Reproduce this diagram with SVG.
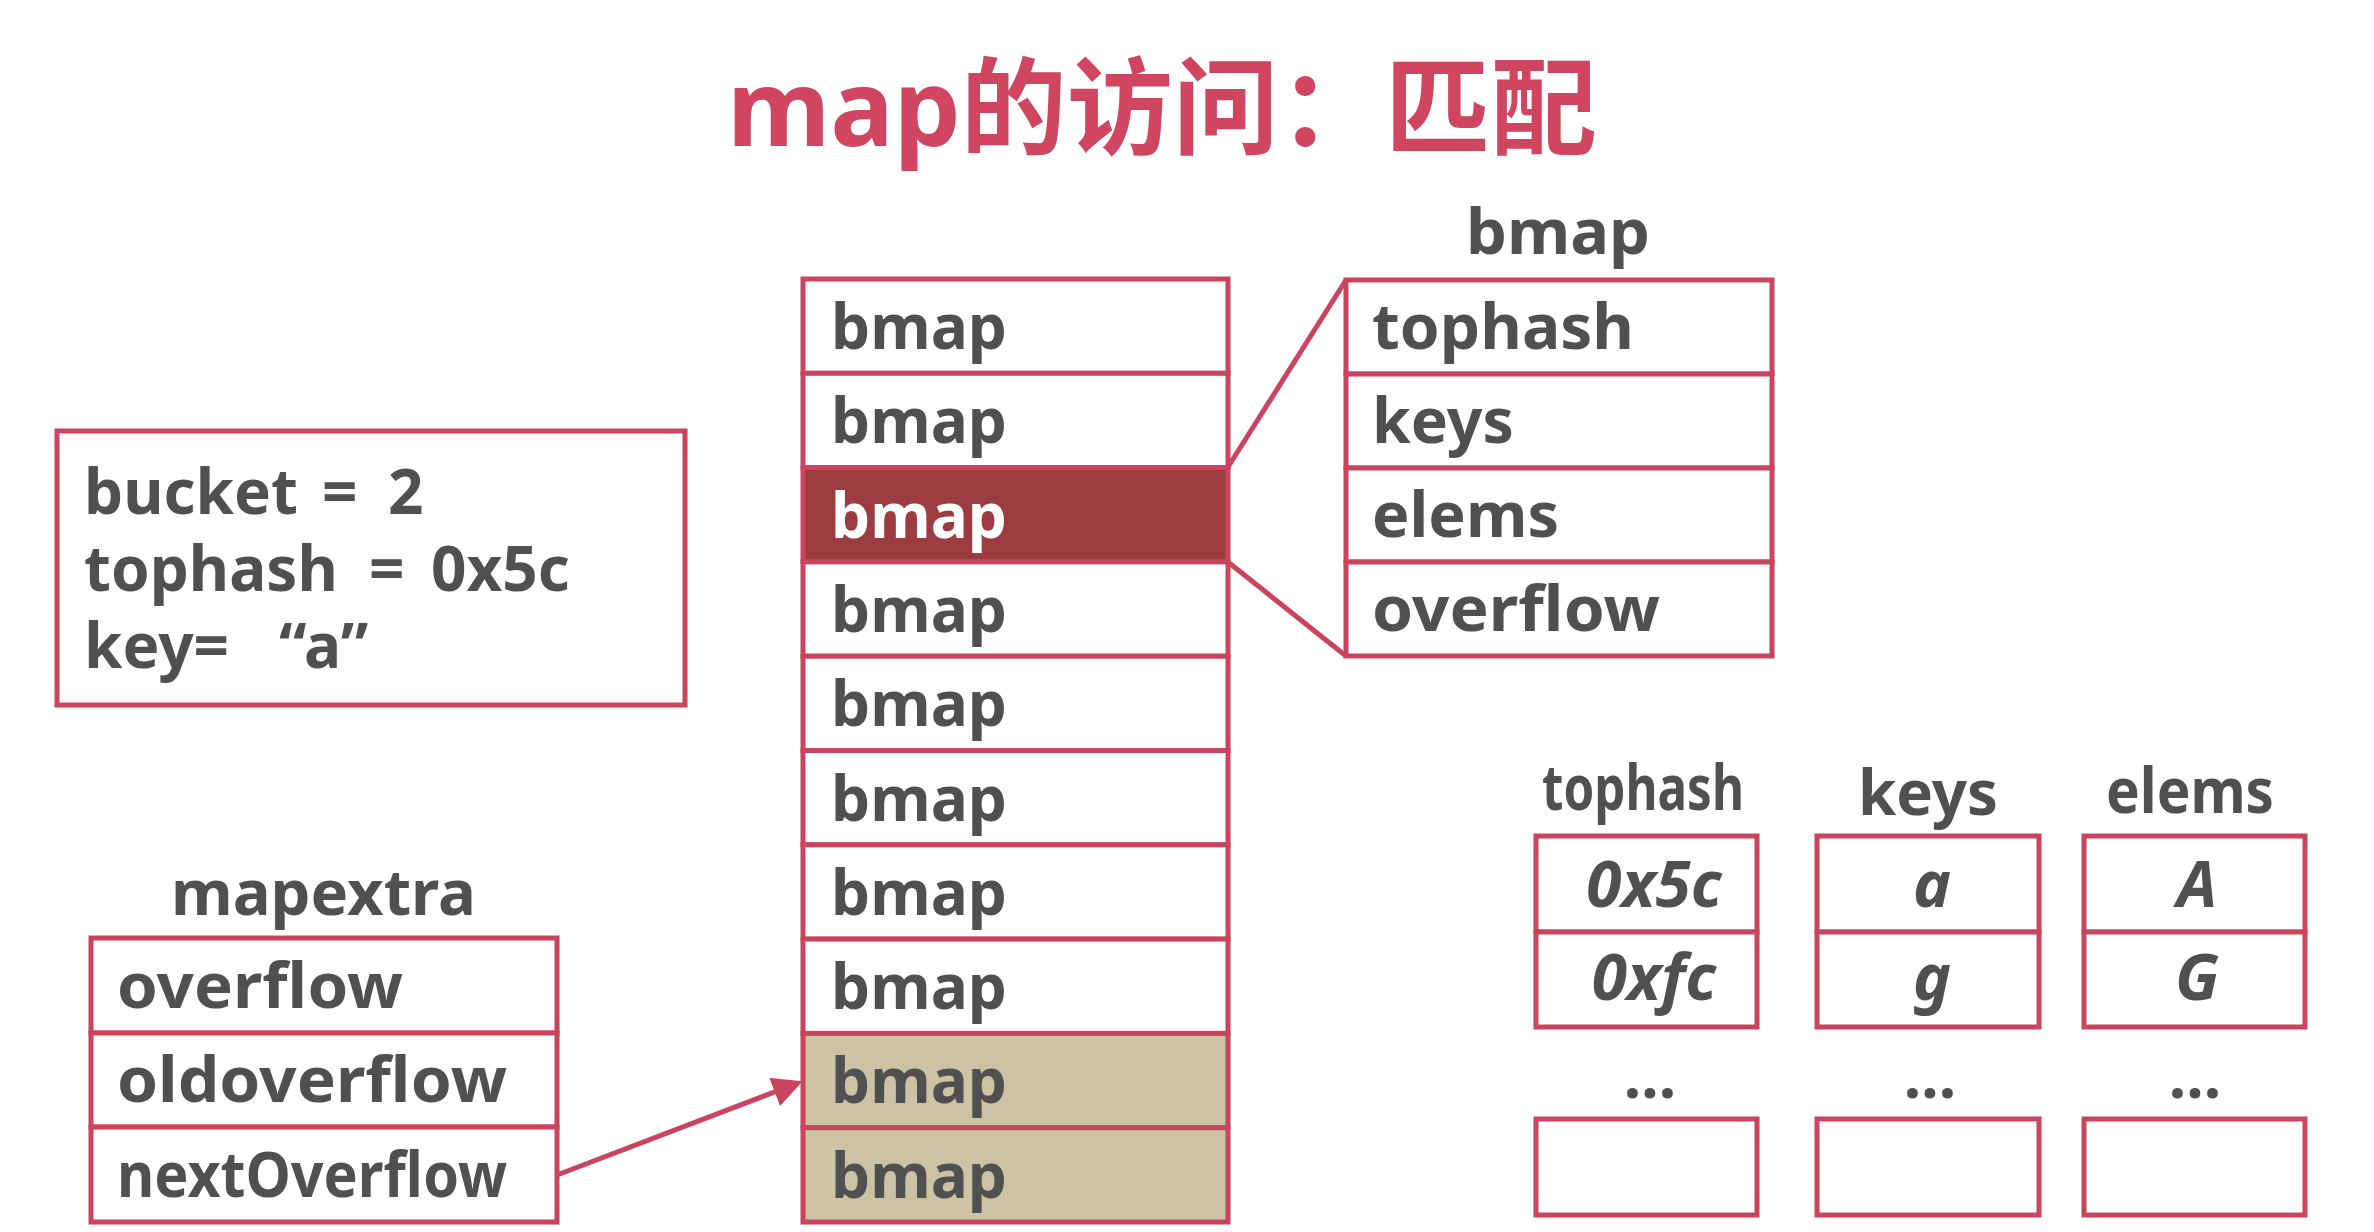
<svg xmlns="http://www.w3.org/2000/svg" width="2374" height="1232" viewBox="0 0 2374 1232">
<style>
.cell{fill:#fff;stroke:#C9445C;stroke-width:5}
.hl{fill:#9C3B40;stroke:#C9445C;stroke-width:5}
.tan{fill:#CBC3A3;stroke:#C9445C;stroke-width:5}
.t{font-family:"Noto Sans","Open Sans","Liberation Sans",sans-serif;font-weight:bold;fill:#505050;font-size:62px}
.w{fill:#fff}
.it{font-style:italic;text-anchor:middle;font-size:64px}
.lbl{text-anchor:middle}
.conn{stroke:#C9445C;stroke-width:5;fill:none}
</style>
<defs>
<marker id="arr" markerWidth="6" markerHeight="6" refX="5" refY="3" orient="auto" markerUnits="strokeWidth">
<path d="M0,0 L6,3 L0,6 Z" fill="#C9445C"/>
</marker>
</defs>
<rect width="2374" height="1232" fill="#fff"/>
<g id="title">
<text x="727" y="146" font-family="'Noto Sans','Noto Sans CJK SC',sans-serif" font-weight="bold" font-size="106" fill="#D04560">map<tspan font-family="'Noto Sans CJK SC',sans-serif">的访问：匹配</tspan></text>
</g>
<g id="query">
<rect x="57" y="431" width="628" height="274" class="cell"/>
<text class="t" x="84" y="514" font-size="65">bucket<tspan x="322">=</tspan><tspan x="388">2</tspan></text>
<text class="t" x="84" y="591" font-size="65">tophash<tspan x="369">=</tspan><tspan x="431">0x5c</tspan></text>
<text class="t" x="84" y="668" font-size="65">key=<tspan x="279">“a”</tspan></text>
</g>
<g id="buckets">
<rect x="803" y="279" width="425" height="94.3" class="cell"/>
<rect x="803" y="373.3" width="425" height="94.3" class="cell"/>
<rect x="803" y="467.6" width="425" height="94.3" class="hl"/>
<rect x="803" y="561.9" width="425" height="94.3" class="cell"/>
<rect x="803" y="656.2" width="425" height="94.3" class="cell"/>
<rect x="803" y="750.5" width="425" height="94.3" class="cell"/>
<rect x="803" y="844.8" width="425" height="94.3" class="cell"/>
<rect x="803" y="939.1" width="425" height="94.3" class="cell"/>
<rect x="803" y="1033.4" width="425" height="94.3" class="tan"/>
<rect x="803" y="1127.7" width="425" height="94.3" class="tan"/>
<text class="t" x="831" y="349">bmap</text>
<text class="t" x="831" y="443">bmap</text>
<text class="t w" x="831" y="538">bmap</text>
<text class="t" x="831" y="632">bmap</text>
<text class="t" x="831" y="726">bmap</text>
<text class="t" x="831" y="821">bmap</text>
<text class="t" x="831" y="915">bmap</text>
<text class="t" x="831" y="1009">bmap</text>
<text class="t" x="831" y="1103">bmap</text>
<text class="t" x="831" y="1198">bmap</text>
</g>
<g id="bmap-detail">
<text class="t" x="1466" y="254" font-size="63" textLength="184" lengthAdjust="spacingAndGlyphs">bmap</text>
<rect x="1346" y="280" width="426" height="94" class="cell"/>
<rect x="1346" y="374" width="426" height="94" class="cell"/>
<rect x="1346" y="468" width="426" height="94" class="cell"/>
<rect x="1346" y="562" width="426" height="94" class="cell"/>
<text class="t" x="1372" y="349" textLength="262" lengthAdjust="spacingAndGlyphs">tophash</text>
<text class="t" x="1372" y="443" textLength="142" lengthAdjust="spacingAndGlyphs">keys</text>
<text class="t" x="1372" y="537" textLength="187" lengthAdjust="spacingAndGlyphs">elems</text>
<text class="t" x="1372" y="631" textLength="288" lengthAdjust="spacingAndGlyphs">overflow</text>
</g>
<g id="mapextra">
<text class="t" x="171" y="915" font-size="63" textLength="305" lengthAdjust="spacingAndGlyphs">mapextra</text>
<rect x="91" y="938" width="466" height="95" class="cell"/>
<rect x="91" y="1033" width="466" height="94" class="cell"/>
<rect x="91" y="1127" width="466" height="95" class="cell"/>
<text class="t" x="117" y="1008" font-size="64" textLength="286" lengthAdjust="spacingAndGlyphs">overflow</text>
<text class="t" x="117" y="1102" font-size="64" textLength="390" lengthAdjust="spacingAndGlyphs">oldoverflow</text>
<text class="t" x="117" y="1197" font-size="64" textLength="390" lengthAdjust="spacingAndGlyphs">nextOverflow</text>
</g>
<g id="tophash-array">
<text class="t" x="1542" y="810" font-size="47" textLength="202" lengthAdjust="spacingAndGlyphs">tophash</text>
<rect x="1536" y="836" width="221" height="96" class="cell"/>
<rect x="1536" y="932" width="221" height="95" class="cell"/>
<text class="t it" x="1654" y="907">0x5c</text>
<text class="t it" x="1654" y="1000">0xfc</text>
<text class="t lbl" x="1650" y="1098" font-size="58">...</text>
<rect x="1536" y="1119" width="221" height="96" class="cell"/>
</g>
<g id="keys-array">
<text class="t" x="1858" y="815" font-size="60" textLength="140" lengthAdjust="spacingAndGlyphs">keys</text>
<rect x="1817" y="836" width="222" height="96" class="cell"/>
<rect x="1817" y="932" width="222" height="95" class="cell"/>
<text class="t it" x="1932" y="907">a</text>
<text class="t it" x="1932" y="1000">g</text>
<text class="t lbl" x="1930" y="1098" font-size="58">...</text>
<rect x="1817" y="1119" width="222" height="96" class="cell"/>
</g>
<g id="elems-array">
<text class="t" x="2106" y="813" font-size="55" textLength="168" lengthAdjust="spacingAndGlyphs">elems</text>
<rect x="2084" y="836" width="221" height="96" class="cell"/>
<rect x="2084" y="932" width="221" height="95" class="cell"/>
<text class="t it" x="2197" y="907">A</text>
<text class="t it" x="2197" y="1000">G</text>
<text class="t lbl" x="2195" y="1098" font-size="58">...</text>
<rect x="2084" y="1119" width="221" height="96" class="cell"/>
</g>
<g id="connectors">
<line class="conn" x1="1228" y1="467" x2="1346" y2="280"/>
<line class="conn" x1="1228" y1="562" x2="1346" y2="656"/>
<line class="conn" x1="557" y1="1175" x2="798" y2="1083" marker-end="url(#arr)"/>
</g>
</svg>
